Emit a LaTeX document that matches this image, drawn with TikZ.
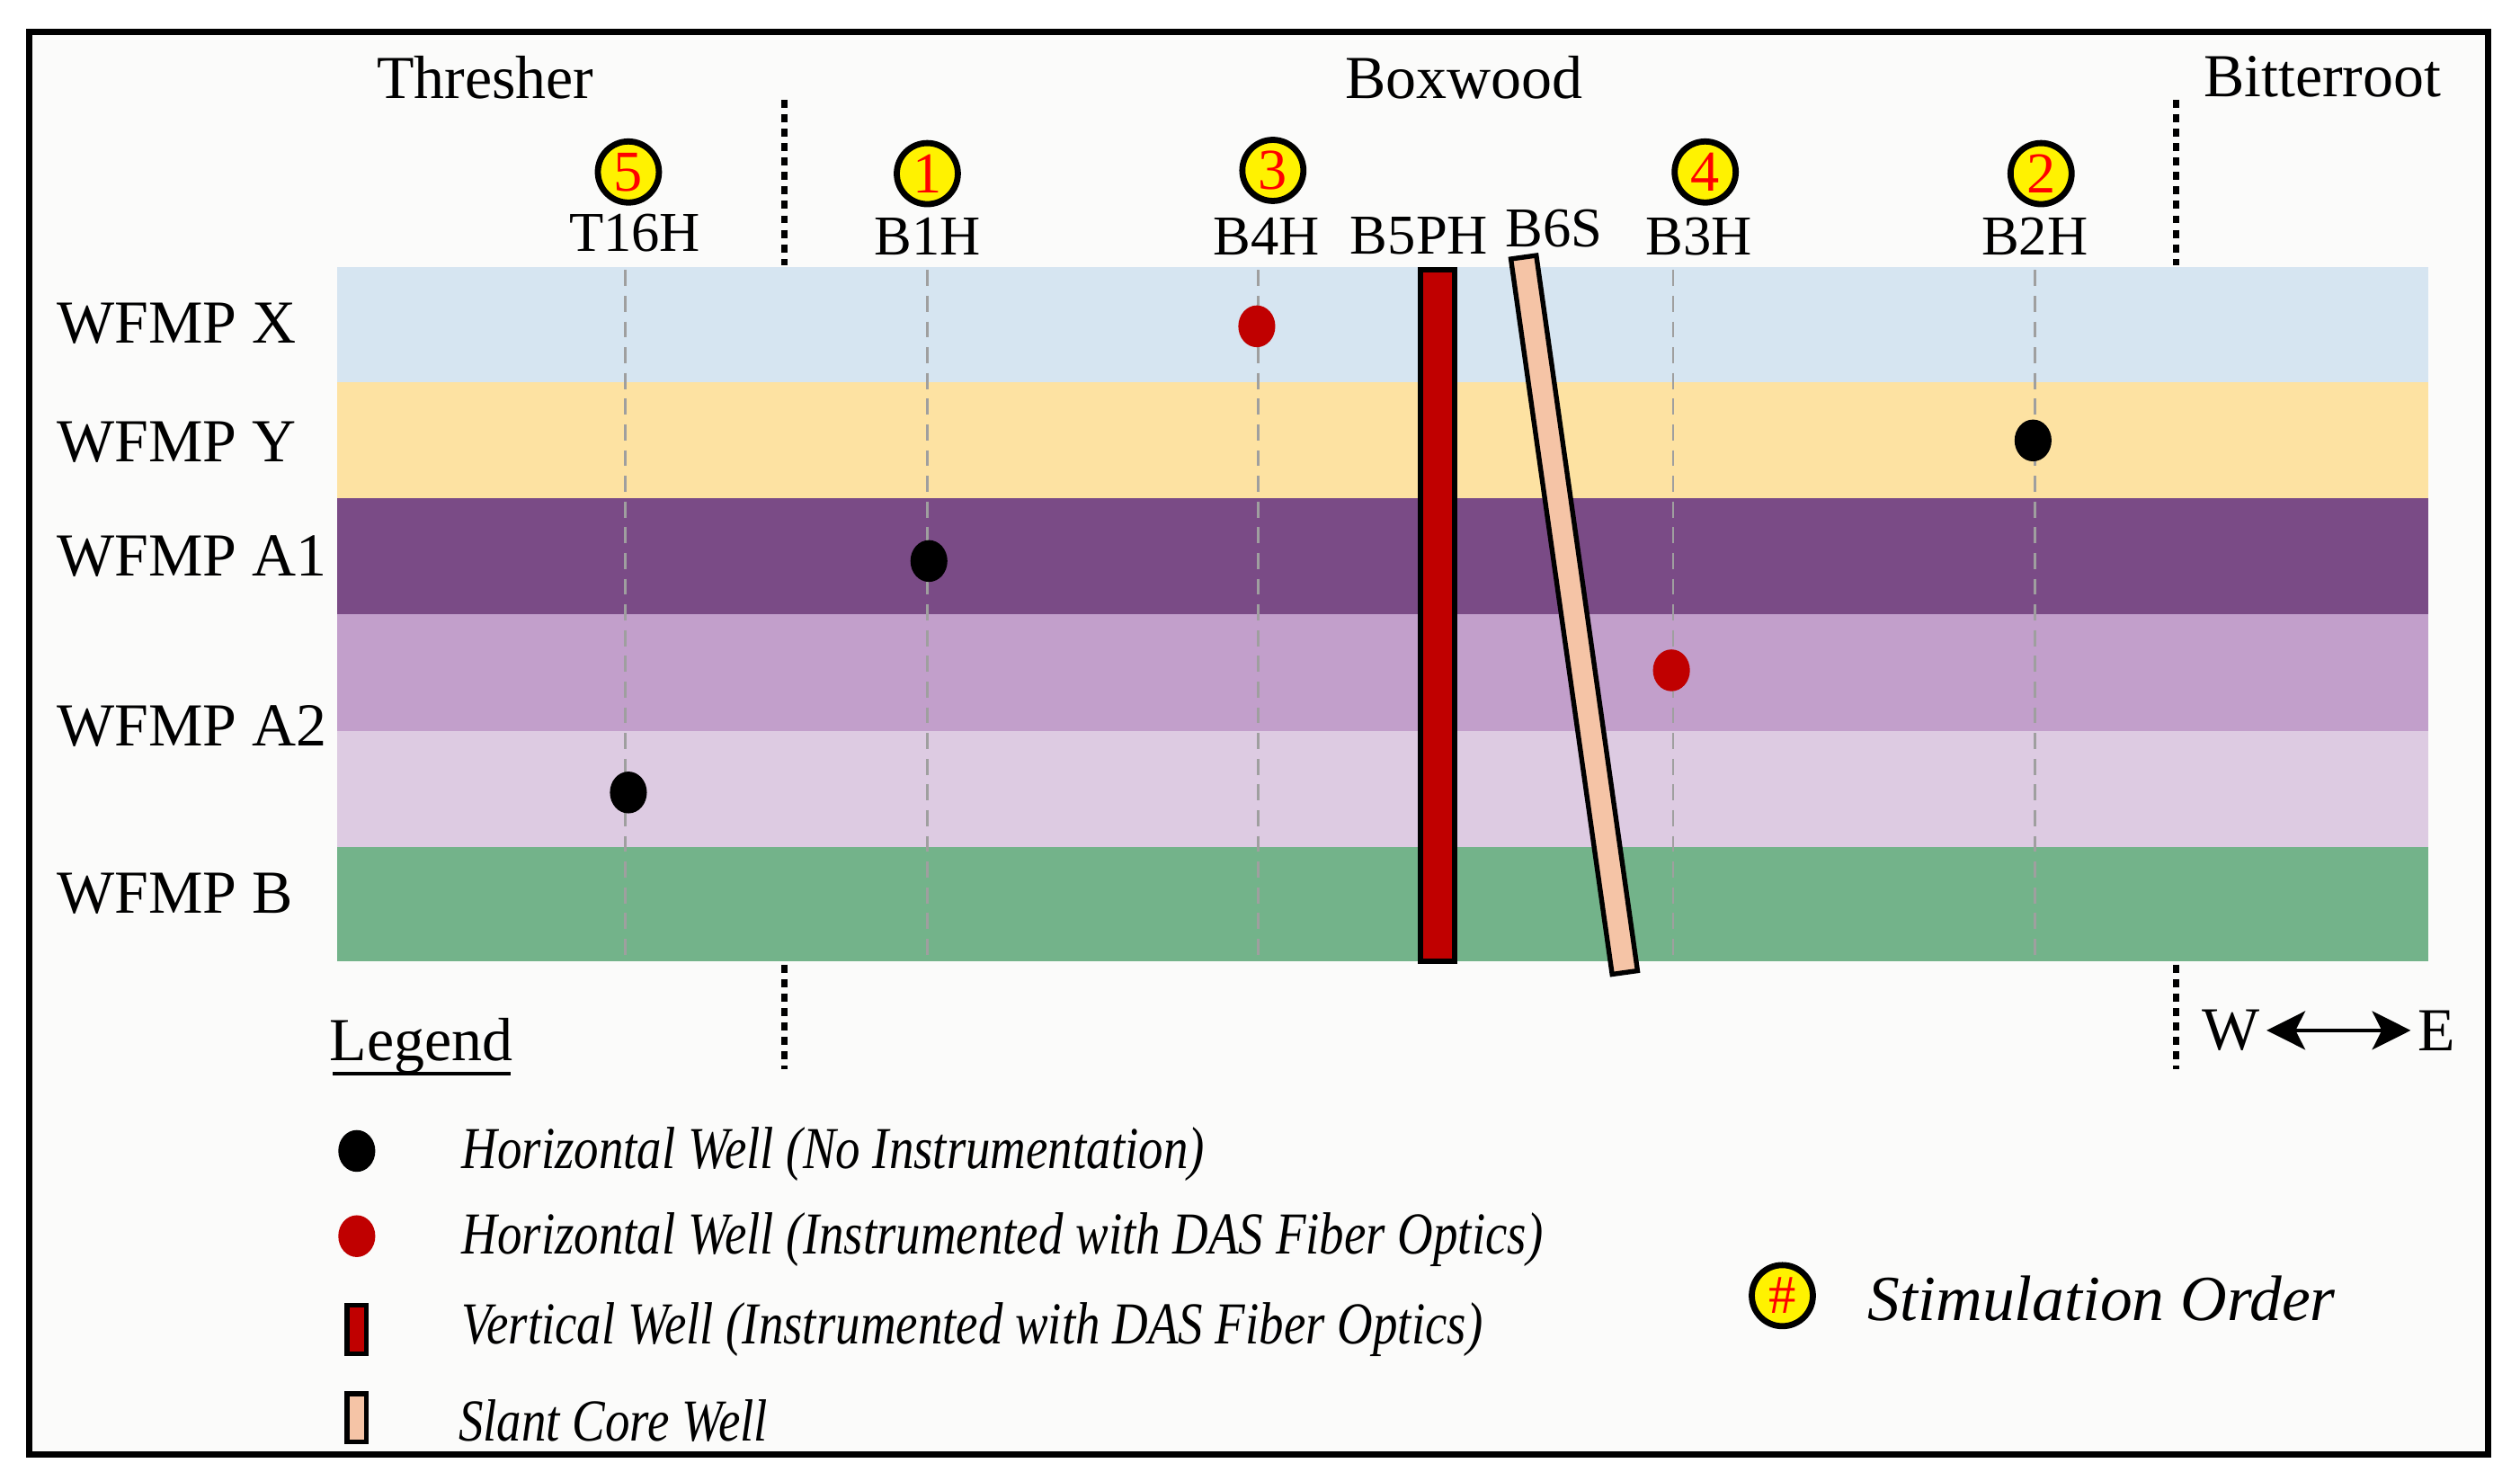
\documentclass[tikz,border=0pt]{standalone}
\usepackage{fontspec}
\setmainfont{Liberation Serif}
\newfontfamily\condfont[FakeStretch=0.83]{Liberation Serif}
\usetikzlibrary{shapes.geometric,arrows.meta,calc}
\definecolor{bgc}{HTML}{FBFBFA}
\definecolor{lblue}{HTML}{D6E5F1}
\definecolor{lyellow}{HTML}{FDE2A2}
\definecolor{dpurple}{HTML}{7A4B86}
\definecolor{mpurple}{HTML}{C29FCB}
\definecolor{lpurple}{HTML}{DDCBE2}
\definecolor{lgreen}{HTML}{73B38A}
\definecolor{wellred}{HTML}{C00000}
\definecolor{peach}{HTML}{F5C4A6}
\definecolor{ordyellow}{HTML}{FFF200}
\tikzset{
  regionlbl/.style={font=\fontsize{19}{22}\selectfont, inner sep=0},
  welllbl/.style={font=\fontsize{17.5}{20}\selectfont, inner sep=0},
  layerlbl/.style={font=\fontsize{19}{22}\selectfont, anchor=west, inner sep=0},
  order/.style={circle, draw=black, line width=1.9pt, fill=ordyellow, text=red,
    minimum size=19pt, inner sep=0, font=\fontsize{18}{18}\selectfont},
  blackdot/.style={ellipse, fill=black, minimum width=11.5pt, minimum height=13pt, inner sep=0},
  reddot/.style={ellipse, fill=wellred, minimum width=11.5pt, minimum height=13pt, inner sep=0},
  welldash/.style={draw=gray!75, dash pattern=on 5pt off 3pt, line width=0.8pt},
  zoneline/.style={line width=2pt, dash pattern=on 2.5pt off 2pt},
  legendtxt/.style={font=\condfont\itshape\fontsize{18.5}{20}\selectfont, anchor=west, inner sep=0},
  legendbar/.style={draw=black, line width=1.5pt, minimum width=6pt, minimum height=15pt, inner sep=0},
}
\begin{document}
\begin{tikzpicture}[x=0.5pt,y=-0.5pt]
\useasboundingbox (0,0) rectangle (1568,921);
\fill[white] (0,0) rectangle (1568,921);
\fill[bgc] (18,20) rectangle (1548,905);
% layers
\fill[lblue]   (210,166) rectangle (1511,238);
\fill[lyellow] (210,238) rectangle (1511,310);
\fill[dpurple] (210,310) rectangle (1511,382);
\fill[mpurple] (210,382) rectangle (1511,455);
\fill[lpurple] (210,455) rectangle (1511,527);
\fill[lgreen]  (210,527) rectangle (1511,598);
% frame
\draw[line width=2pt] (18,20) rectangle (1548,905);
% region names
\node[regionlbl] (thresher) at (302,48) {Thresher};
\node[regionlbl] (boxwood) at (911,48) {Boxwood};
\node[regionlbl] (bitter) at (1445,48) {Bitterroot};
% zone boundaries
\draw[zoneline] (488,62) -- (488,165);
\draw[zoneline] (488,600) -- (488,665);
\draw[zoneline] (1354,62) -- (1354,165);
\draw[zoneline] (1354,600) -- (1354,665);
% well traces
\draw[welldash] (389,168) -- (389,598);
\draw[welldash] (577,168) -- (577,598);
\draw[welldash] (783,168) -- (783,598);
\draw[welldash] (1041,168) -- (1041,598);
\draw[welldash] (1266,168) -- (1266,598);
% well labels
\node[welllbl] (t16h) at (395,145) {T16H};
\node[welllbl] (b1h) at (577,147) {B1H};
\node[welllbl] (b4h) at (788,147) {B4H};
\node[welllbl] (b5ph) at (883,147) {B5PH};
\node[welllbl] (b6s) at (967,142) {B6S};
\node[welllbl] (b3h) at (1057,147) {B3H};
\node[welllbl] (b2h) at (1266,147) {B2H};
% stimulation order
\node[order] (o5) at (391,107) {5};
\node[order] (o1) at (577,108) {1};
\node[order] (o3) at (792,106) {3};
\node[order] (o4) at (1061,107) {4};
\node[order] (o2) at (1270,108) {2};
% layer labels
\node[layerlbl] (lx) at (35,201) {WFMP X};
\node[layerlbl] (ly) at (35,275) {WFMP Y};
\node[layerlbl] (la1) at (35,346) {WFMP A1};
\node[layerlbl] (la2) at (35,452) {WFMP A2};
\node[layerlbl] (lb) at (35,556) {WFMP B};
% wells
\node[reddot] (d4) at (782,203) {};
\node[blackdot] (d2) at (1265,274) {};
\node[blackdot] (d1) at (578,349) {};
\node[reddot] (d3) at (1040,417) {};
\node[blackdot] (d5) at (391,493) {};
% vertical well B5PH
\draw[fill=wellred, line width=1.7pt] (884,168) rectangle (905,598);
% slant core well B6S
\draw[fill=peach, line width=1.5pt] (940.1,161.1) -- (955.9,158.9) -- (1018.9,603.9) -- (1003.1,606.1) -- cycle;
% W-E
\node[regionlbl] (w) at (1388,641) {W};
\node[regionlbl] (e) at (1516,641) {E};
\draw[line width=1pt, {Stealth[length=12pt,width=12pt,inset=3pt]}-{Stealth[length=12pt,width=12pt,inset=3pt]}] ($(w.east)+(4,0)$) -- ($(e.west)+(-4,0)$);
% legend
\node[regionlbl] (legend) at (262,651) {Legend};
\draw[line width=1pt] (207,668) -- (318,668);
\node[blackdot] (lg1) at (222,716) {};
\node[reddot] (lg2) at (222,769) {};
\node[legendbar, fill=wellred] (lg3) at (222,827) {};
\node[legendbar, fill=peach] (lg4) at (222,882) {};
\node[legendtxt] (lt1) at (287,718) {Horizontal Well (No Instrumentation)};
\node[legendtxt] (lt2) at (287,771) {Horizontal Well (Instrumented with DAS Fiber Optics)};
\node[legendtxt] (lt3) at (287,827) {Vertical Well (Instrumented with DAS Fiber Optics)};
\node[legendtxt] (lt4) at (285,884) {Slant Core Well};
\node[order, font=\fontsize{17}{17}\selectfont] (ohash) at (1109,806) {\#};
\node[font=\itshape\fontsize{20}{22}\selectfont, anchor=west, inner sep=0] (stim) at (1162,808) {Stimulation Order};
\end{tikzpicture}
\end{document}
